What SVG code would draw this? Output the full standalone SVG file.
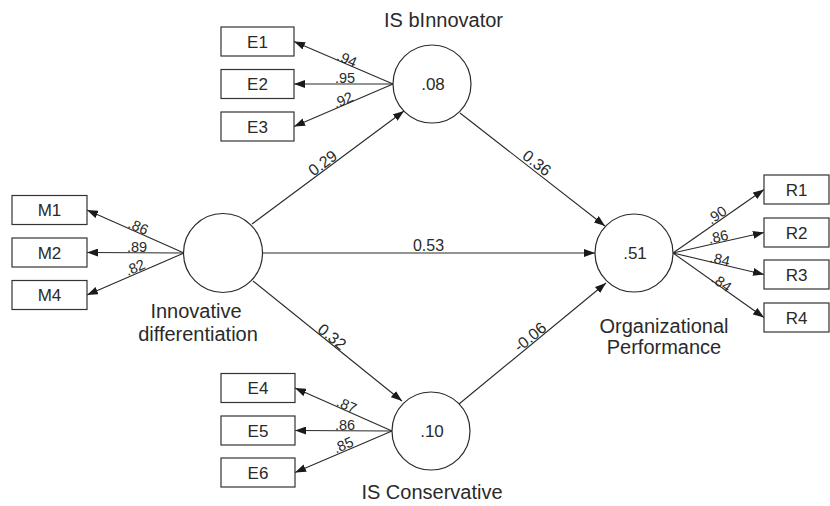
<svg xmlns="http://www.w3.org/2000/svg" width="830" height="506" viewBox="0 0 830 506">
<style>
  .box { fill: #ffffff; stroke: #333333; stroke-width: 1.2; }
  .lat { fill: #ffffff; stroke: #2a2a2a; stroke-width: 1.2; }
  .edge { fill: none; stroke: #2a2a2a; stroke-width: 1.1; marker-end: url(#ah); }
  text { font-family: "Liberation Sans", Arial, sans-serif; fill: #2a2a2a; }
  .bl { font-size: 17px; text-anchor: middle; }
  .cl { font-size: 17px; text-anchor: middle; }
  .nm { font-size: 20px; text-anchor: middle; }
  .ld { font-size: 14.5px; text-anchor: middle; }
  .pc { font-size: 16px; text-anchor: middle; }
</style>
<defs>
  <marker id="ah" viewBox="0 0 11 8" refX="11" refY="4" markerWidth="11" markerHeight="8" markerUnits="userSpaceOnUse" orient="auto">
    <path d="M0,0 L11,4 L0,8 z" fill="#1a1a1a"/>
  </marker>
</defs>

<g id="connectors">
  <line class="edge" x1="393" y1="84" x2="294" y2="41.5"/>
  <line class="edge" x1="393" y1="84" x2="294" y2="84"/>
  <line class="edge" x1="393" y1="84" x2="294" y2="126.5"/>
  <line class="edge" x1="184" y1="253" x2="87" y2="210"/>
  <line class="edge" x1="184" y1="253" x2="87" y2="252.5"/>
  <line class="edge" x1="184" y1="253" x2="87" y2="295"/>
  <line class="edge" x1="392" y1="431" x2="295" y2="388"/>
  <line class="edge" x1="392" y1="431" x2="295" y2="430.5"/>
  <line class="edge" x1="392" y1="431" x2="295" y2="472.5"/>
  <line class="edge" x1="673" y1="253" x2="764" y2="189.5"/>
  <line class="edge" x1="673" y1="253" x2="764" y2="232.5"/>
  <line class="edge" x1="673" y1="253" x2="764" y2="274.5"/>
  <line class="edge" x1="673" y1="253" x2="764" y2="317.5"/>
  <line class="edge" x1="252" y1="224" x2="404" y2="111"/>
  <line class="edge" x1="460" y1="113" x2="605" y2="226"/>
  <line class="edge" x1="263" y1="253" x2="595" y2="253"/>
  <line class="edge" x1="253" y1="281" x2="402" y2="401"/>
  <line class="edge" x1="459" y1="404" x2="606" y2="283"/>

  <text class="ld" x="345" y="63.6" transform="rotate(23.2 345 63.6)">.94</text>
  <text class="ld" x="345" y="83">.95</text>
  <text class="ld" x="345" y="104.6" transform="rotate(-23.2 345 104.6)">.92</text>

  <text class="ld" x="136.3" y="231.3" transform="rotate(23.9 136.3 231.3)">.86</text>
  <text class="ld" x="137" y="251.5">.89</text>
  <text class="ld" x="137" y="272" transform="rotate(-23.4 137 272)">.82</text>

  <text class="ld" x="344.7" y="409.6" transform="rotate(23.9 344.7 409.6)">.87</text>
  <text class="ld" x="345" y="429.5">.86</text>
  <text class="ld" x="345.3" y="449.6" transform="rotate(-23.4 345.3 449.6)">.85</text>

  <text class="ld" x="719.6" y="219.1" transform="rotate(-34.9 719.6 219.1)">.90</text>
  <text class="ld" x="719.4" y="241.6" transform="rotate(-12.7 719.4 241.6)">.86</text>
  <text class="ld" x="718.9" y="264.2" transform="rotate(12.7 718.9 264.2)">.84</text>
  <text class="ld" x="718.8" y="286.8" transform="rotate(35.3 718.8 286.8)">.84</text>

  <text class="pc" x="326" y="167.5" transform="rotate(-36.6 326 167.5)">0.29</text>
  <text class="pc" x="533.6" y="167.3" transform="rotate(37.9 533.6 167.3)">0.36</text>
  <text class="pc" x="428.5" y="251">0.53</text>
  <text class="pc" x="328.6" y="341" transform="rotate(38.8 328.6 341)">0.32</text>
  <text class="pc" x="533.5" y="341.2" transform="rotate(-39.5 533.5 341.2)">-0.06</text>
</g>

<g id="E1"><rect class="box" x="221" y="27" width="73" height="29"/><text class="bl" x="257.5" y="47.5">E1</text></g>
<g id="E2"><rect class="box" x="221" y="69.5" width="73" height="29"/><text class="bl" x="257.5" y="90">E2</text></g>
<g id="E3"><rect class="box" x="221" y="112" width="73" height="29"/><text class="bl" x="257.5" y="132.5">E3</text></g>

<g id="M1"><rect class="box" x="12" y="195.5" width="75" height="29"/><text class="bl" x="49.5" y="216">M1</text></g>
<g id="M2"><rect class="box" x="12" y="238" width="75" height="29"/><text class="bl" x="49.5" y="258.5">M2</text></g>
<g id="M4"><rect class="box" x="12" y="280.5" width="75" height="29"/><text class="bl" x="49.5" y="301">M4</text></g>

<g id="E4"><rect class="box" x="221" y="373.5" width="74" height="29"/><text class="bl" x="258" y="394">E4</text></g>
<g id="E5"><rect class="box" x="221" y="416" width="74" height="29"/><text class="bl" x="258" y="436.5">E5</text></g>
<g id="E6"><rect class="box" x="221" y="458" width="74" height="29"/><text class="bl" x="258" y="478.5">E6</text></g>

<g id="R1"><rect class="box" x="764" y="175" width="65" height="29"/><text class="bl" x="796.5" y="195.5">R1</text></g>
<g id="R2"><rect class="box" x="764" y="218" width="65" height="29"/><text class="bl" x="796.5" y="238.5">R2</text></g>
<g id="R3"><rect class="box" x="764" y="260" width="65" height="29"/><text class="bl" x="796.5" y="280.5">R3</text></g>
<g id="R4"><rect class="box" x="764" y="303" width="65" height="29"/><text class="bl" x="796.5" y="323.5">R4</text></g>

<g id="IS_bInnovator">
  <circle class="lat" cx="432" cy="84" r="39"/>
  <text class="cl" x="433" y="90">.08</text>
  <text class="nm" x="443.5" y="27">IS bInnovator</text>
</g>
<g id="Innovative_differentiation">
  <circle class="lat" cx="223" cy="253" r="39.5"/>
  <text class="nm" x="196" y="318">Innovative</text>
  <text class="nm" x="198" y="341">differentiation</text>
</g>
<g id="IS_Conservative">
  <circle class="lat" cx="431" cy="431" r="39"/>
  <text class="cl" x="432" y="437">.10</text>
  <text class="nm" x="432" y="499">IS Conservative</text>
</g>
<g id="Organizational_Performance">
  <circle class="lat" cx="634" cy="253" r="39"/>
  <text class="cl" x="635" y="259">.51</text>
  <text class="nm" x="664" y="333">Organizational</text>
  <text class="nm" x="664" y="354">Performance</text>
</g>
</svg>
